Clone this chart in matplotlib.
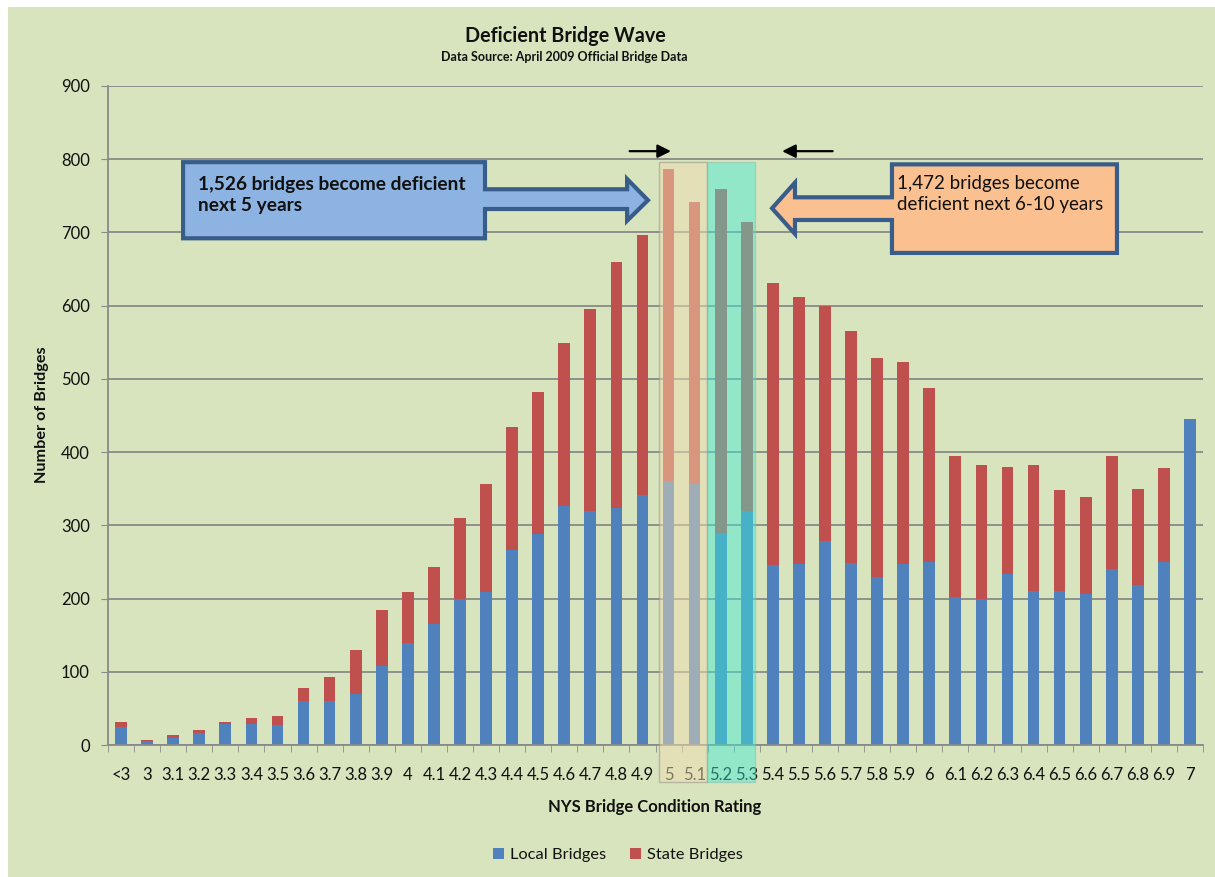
import matplotlib
matplotlib.use("Agg")
import matplotlib.pyplot as plt
from matplotlib.patches import Rectangle, Polygon, Patch
import numpy as np

# ----------------------------
# Data
# ----------------------------
ratings = ['<3', '3', '3.1', '3.2', '3.3', '3.4', '3.5', '3.6', '3.7', '3.8', '3.9',
           '4', '4.1', '4.2', '4.3', '4.4', '4.5', '4.6', '4.7', '4.8', '4.9',
           '5', '5.1', '5.2', '5.3', '5.4', '5.5', '5.6', '5.7', '5.8', '5.9',
           '6', '6.1', '6.2', '6.3', '6.4', '6.5', '6.6', '6.7', '6.8', '6.9', '7']

local_bridges = [24, 5, 9, 17, 28, 29, 27, 60, 60, 70, 108,
                 139, 165, 199, 209, 266, 288, 327, 320, 324, 342,
                 360, 357, 290, 320, 246, 247, 278, 248, 230, 247,
                 250, 202, 200, 234, 211, 210, 206, 240, 219, 250, 445]

state_bridges = [7, 2, 4, 4, 4, 8, 13, 18, 33, 60, 77,
                 70, 78, 111, 148, 168, 194, 222, 276, 336, 355,
                 426, 384, 470, 394, 385, 365, 321, 318, 298, 276,
                 238, 193, 183, 146, 171, 138, 133, 155, 130, 128, 0]

series_names = ['Local Bridges', 'State Bridges']
note_5yr = "1,526 bridges become deficient\nnext 5 years"
note_10yr = "1,472 bridges become\ndeficient next 6-10 years"

# ----------------------------
# Style
# ----------------------------
plt.rcParams['font.family'] = ['Lato', 'DejaVu Sans']
bg = '#d7e4bd'
blue = '#4f81bd'
red = '#c0504d'
grid_c = '#8a8a8a'
txt = '#111111'
W, H = 1215, 877

fig = plt.figure(figsize=(W / 100, H / 100), dpi=100, facecolor='white')
fig.patches.append(Rectangle((8 / W, 0), 1 - 8 / W, 1 - 7 / H, transform=fig.transFigure,
                             facecolor=bg, edgecolor='none', zorder=-10))

ax = fig.add_axes([108 / W, 1 - 745 / H, (1203 - 108) / W, (745 - 86) / H])
ax.set_facecolor(bg)
ax.set_axisbelow(True)

x = np.arange(len(ratings))
ax.bar(x, local_bridges, width=0.45, color=blue, zorder=2)
ax.bar(x, state_bridges, width=0.45, bottom=local_bridges, color=red, zorder=2)

ax.set_xlim(-0.5, len(ratings) - 0.5)
ax.set_ylim(0, 900)
ax.set_yticks(np.arange(0, 901, 100))
ax.yaxis.grid(True, color=grid_c, lw=1.3)
ax.tick_params(axis='y', length=5, color=grid_c, pad=8, labelsize=12, labelcolor=txt)

ax.set_xticks(x)
ax.set_xticklabels(ratings)
ax.set_xticks(np.arange(-0.5, len(ratings)), minor=True)
ax.tick_params(axis='x', which='major', length=0, pad=16, labelsize=12, labelcolor=txt)
ax.tick_params(axis='x', which='minor', length=5, color=grid_c)

for s in ['top', 'right']:
    ax.spines[s].set_visible(False)
for s in ['left', 'bottom']:
    ax.spines[s].set_color(grid_c)
    ax.spines[s].set_linewidth(1.3)

# ----------------------------
# Highlight bands (5-5.1 and 5.2-5.3)
# ----------------------------
ax.add_patch(Rectangle((20.62, -50), 1.86, 846, facecolor='#f0dcb0', alpha=0.5,
                       edgecolor='#8c8c8c', lw=1, clip_on=False, zorder=4))
ax.add_patch(Rectangle((22.48, -50), 1.84, 846, facecolor='#3fecd6', alpha=0.45,
                       edgecolor='#7fb8b0', lw=1, clip_on=False, zorder=4))

# ----------------------------
# Block arrows
# ----------------------------
edge = '#385d8a'
blue_arrow = [(2.38, 796), (13.96, 796), (13.96, 759), (19.41, 759), (19.41, 773),
              (20.21, 744), (19.41, 716), (19.41, 732), (13.96, 732), (13.96, 692),
              (2.38, 692)]
ax.add_patch(Polygon(blue_arrow, closed=True, facecolor='#8db3e2', edgecolor=edge,
                     lw=3, clip_on=False, zorder=5))
ax.text(2.95, 751, note_5yr, ha='left', va='center', fontsize=13.8, fontweight='bold',
        color=txt, linespacing=1.3, zorder=6, clip_on=False)

orange_arrow = [(38.2, 793), (29.57, 793), (29.57, 748), (25.85, 748), (25.85, 768),
                (24.97, 733), (25.85, 698), (25.85, 717), (29.57, 717), (29.57, 672),
                (38.2, 672)]
ax.add_patch(Polygon(orange_arrow, closed=True, facecolor='#fac090', edgecolor=edge,
                     lw=3, clip_on=False, zorder=5))
ax.text(29.75, 752, note_10yr, ha='left', va='center', fontsize=13.5,
        color=txt, linespacing=1.3, zorder=6, clip_on=False)

# small pointer arrows
ax.annotate('', xy=(21.2, 811), xytext=(19.4, 811), annotation_clip=False,
            arrowprops=dict(arrowstyle='-|>', color='black', lw=1.6, mutation_scale=20))
ax.annotate('', xy=(25.25, 811), xytext=(27.4, 811), annotation_clip=False,
            arrowprops=dict(arrowstyle='-|>', color='black', lw=1.6, mutation_scale=20))

# ----------------------------
# Titles, labels, legend
# ----------------------------
fig.text(565 / W, 1 - 36 / H, 'Deficient Bridge Wave', ha='center', va='center',
         fontsize=14.2, fontweight='bold', color=txt)
fig.text(564 / W, 1 - 57 / H, 'Data Source: April 2009 Official Bridge Data', ha='center',
         va='center', fontsize=9, fontweight='bold', color=txt)
fig.text(42 / W, 1 - 415 / H, 'Number of Bridges', ha='center', va='center', rotation=90,
         fontsize=11.7, fontweight='bold', color=txt)
fig.text(655 / W, 1 - 807 / H, 'NYS Bridge Condition Rating', ha='center', va='center',
         fontsize=12, fontweight='bold', color=txt)

handles = [Patch(facecolor=blue), Patch(facecolor=red)]
fig.legend(handles, series_names, loc='center', bbox_to_anchor=(618 / W, 1 - 855 / H),
           ncol=2, frameon=False, fontsize=11.8, handlelength=0.65, handleheight=0.65,
           handletextpad=0.35, columnspacing=1.5, labelcolor=txt)

fig.savefig('out.png', dpi=100, facecolor=fig.get_facecolor())
